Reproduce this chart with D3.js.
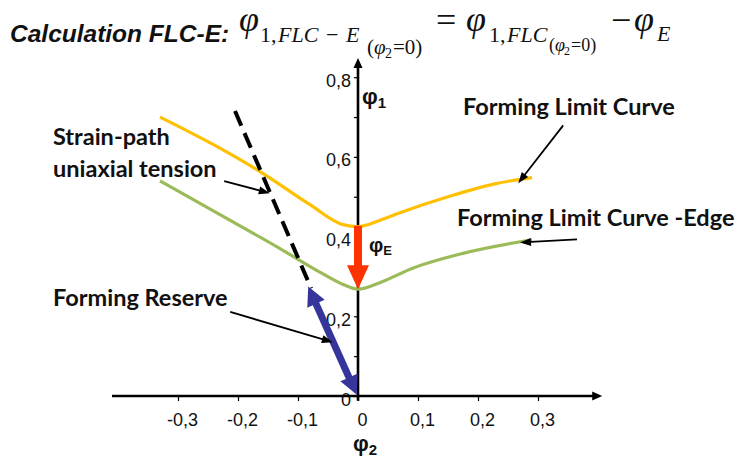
<!DOCTYPE html>
<html>
<head>
<meta charset="utf-8">
<script src="https://cdn.jsdelivr.net/npm/d3@7"></script>
<style>
  body { margin: 0; background: #fff; }
  svg { display: block; }
</style>
</head>
<body>
<div id="ma-figure"></div>
<script>
// --- DONNÉES ---
const ticksX = [-0.3, -0.2, -0.1, 0, 0.1, 0.2, 0.3];
const ticksY = [0, 0.1, 0.2, 0.3, 0.4, 0.5, 0.6, 0.7, 0.8];
const labelsY = [0, 0.2, 0.4, 0.6, 0.8];

// courbes [phi2, phi1]
const courbeFLC = [[-0.33, 0.70], [-0.24, 0.63], [-0.16, 0.56], [-0.08, 0.48], [-0.025, 0.43], [0, 0.425],
                   [0.035, 0.44], [0.07, 0.46], [0.15, 0.50], [0.23, 0.533], [0.29, 0.548]];
const courbeFLCE = [[-0.33, 0.54], [-0.23, 0.455], [-0.13, 0.37], [-0.065, 0.312], [-0.025, 0.28], [0, 0.268],
                    [0.037, 0.285], [0.09, 0.32], [0.175, 0.358], [0.29, 0.392]];
const cheminUniaxial = [[-0.205, 0.715], [-0.078, 0.27]];
const reserveFormage = [[-0.083, 0.275], [-0.002, 0.003]];

// annotations : texte + flèche [départ, pointe]
const annotations = [
  { lignes: ["Strain-path", "uniaxial tension"], tx: 53, ty: 145, fleche: [[-0.223, 0.539], [-0.147, 0.509]] },
  { lignes: ["Forming Reserve"], tx: 53, ty: 306, fleche: [[-0.213, 0.211], [-0.042, 0.135]] },
  { lignes: ["Forming Limit Curve"], tx: 463, ty: 115, fleche: [[0.342, 0.679], [0.267, 0.534]] },
  { lignes: ["Forming Limit Curve -Edge"], tx: 457, ty: 226, fleche: [[0.365, 0.393], [0.27, 0.385]] }
];

// --- CONFIGURATION ---
const largeur = 742;
const hauteur = 459;

const svg = d3.select("#ma-figure")
  .append("svg")
  .attr("width", largeur)
  .attr("height", hauteur);

const x = d3.scaleLinear().domain([-0.41, 0.41]).range([112, 604]);
const y = d3.scaleLinear().domain([0, 0.8]).range([396, 77.2]);

const locale = d3.formatLocale({ decimal: ",", thousands: ".", grouping: [3], currency: ["", ""], minus: "-" });
const fmt = v => v === 0 ? "0" : locale.format(".1f")(v);

// polygone d'une flèche (une ou deux pointes), en pixels
function polygoneFleche(p0, p1, ep, lt, Lt, deuxTetes) {
  const dx = p1[0] - p0[0], dy = p1[1] - p0[1];
  const len = Math.hypot(dx, dy);
  const u = [dx / len, dy / len], n = [-u[1], u[0]];
  const pt = (p, a, b) => [p[0] + u[0] * a + n[0] * b, p[1] + u[1] * a + n[1] * b];
  const pts = [p1, pt(p1, -Lt, lt / 2), pt(p1, -Lt, ep / 2)];
  if (deuxTetes) {
    pts.push(pt(p0, Lt, ep / 2), pt(p0, Lt, lt / 2), p0, pt(p0, Lt, -lt / 2), pt(p0, Lt, -ep / 2));
  } else {
    pts.push(pt(p0, 0, ep / 2), pt(p0, 0, -ep / 2));
  }
  pts.push(pt(p1, -Lt, -ep / 2), pt(p1, -Lt, -lt / 2));
  return "M" + pts.map(p => p.join(",")).join("L") + "Z";
}

// --- AXES ---
const axeX = d3.axisBottom(x).tickValues(ticksX).tickSize(5).tickSizeOuter(0).tickPadding(12).tickFormat(fmt);
const gX = svg.append("g").attr("transform", `translate(0,${y(0)})`).call(axeX);
gX.select(".domain").remove();
gX.selectAll(".tick line").attr("stroke", "#000").attr("stroke-width", 1.2);
gX.selectAll("text").attr("dx", 4);

const axeY = d3.axisLeft(y).tickValues(ticksY).tickSize(4).tickSizeOuter(0).tickPadding(3)
  .tickFormat(v => labelsY.some(l => Math.abs(l - v) < 1e-9) ? fmt(v) : "");
const gY = svg.append("g").attr("transform", `translate(${x(0)},0)`).call(axeY);
gY.select(".domain").remove();
gY.selectAll(".tick line").attr("stroke", "#000").attr("stroke-width", 1.2);
gY.selectAll("text").attr("dy", "0.5em");

svg.selectAll(".tick text")
  .attr("font-family", "'Liberation Sans', Arial, sans-serif")
  .attr("font-size", 18)
  .attr("fill", "#111");

// lignes des axes avec pointes
svg.append("path").attr("fill", "#000")
  .attr("d", polygoneFleche([x(-0.41), y(0)], [x(0.407), y(0)], 2.6, 9, 10, false));
svg.append("path").attr("fill", "#000")
  .attr("d", polygoneFleche([x(0), y(-0.012)], [x(0), y(0.848)], 2.6, 9, 10, false));

// --- COURBES ---
const ligne = d3.line().x(d => x(d[0])).y(d => y(d[1])).curve(d3.curveMonotoneX);

svg.append("path").datum(courbeFLC)
  .attr("d", ligne).attr("fill", "none").attr("stroke", "#ffc000").attr("stroke-width", 3.2);
svg.append("path").datum(courbeFLCE)
  .attr("d", ligne).attr("fill", "none").attr("stroke", "#9bbb59").attr("stroke-width", 3.2);

// chemin de déformation uniaxial (pointillé)
svg.append("path").datum(cheminUniaxial)
  .attr("d", d3.line().x(d => x(d[0])).y(d => y(d[1])))
  .attr("fill", "none").attr("stroke", "#000").attr("stroke-width", 4)
  .attr("stroke-dasharray", "16,8");

// réserve de formage (double flèche bleue)
svg.append("path").attr("fill", "#35359b")
  .attr("d", polygoneFleche(
    [x(reserveFormage[0][0]), y(reserveFormage[0][1])],
    [x(reserveFormage[1][0]), y(reserveFormage[1][1])], 7, 19, 19, true));

// phi_E : flèche rouge de FLC(0) vers FLC-E(0)
const flc0 = courbeFLC.find(d => d[0] === 0)[1];
const flce0 = courbeFLCE.find(d => d[0] === 0)[1];
svg.append("path").attr("fill", "#ff3300")
  .attr("d", polygoneFleche([x(0), y(flc0) - 1], [x(0), y(flce0)], 8, 22, 24, false));

// --- ANNOTATIONS ---
const police = "Lato, 'Open Sans', sans-serif";
annotations.forEach(a => {
  const t = svg.append("text")
    .attr("x", a.tx).attr("y", a.ty)
    .attr("font-family", police).attr("font-weight", "bold").attr("font-size", 23.5).attr("fill", "#111");
  a.lignes.forEach((l, i) => {
    t.append("tspan").attr("x", a.tx).attr("dy", i === 0 ? 0 : 31.5).text(l);
  });
  svg.append("path").attr("fill", "#000")
    .attr("d", polygoneFleche([x(a.fleche[0][0]), y(a.fleche[0][1])], [x(a.fleche[1][0]), y(a.fleche[1][1])], 1.8, 8, 11, false));
});

// étiquettes des axes
const phi1 = svg.append("text").attr("x", 362).attr("y", 104)
  .attr("font-family", "'Liberation Sans', Arial, sans-serif").attr("font-weight", "bold").attr("font-size", 22).attr("fill", "#111");
phi1.append("tspan").text("φ");
phi1.append("tspan").attr("font-size", 15).attr("dy", 4).text("1");

const phi2 = svg.append("text").attr("x", 353).attr("y", 451)
  .attr("font-family", "'Liberation Sans', Arial, sans-serif").attr("font-weight", "bold").attr("font-size", 22).attr("fill", "#111");
phi2.append("tspan").text("φ");
phi2.append("tspan").attr("font-size", 15).attr("dy", 4).text("2");

const phiE = svg.append("text").attr("x", 369).attr("y", 252)
  .attr("font-family", "'Liberation Sans', Arial, sans-serif").attr("font-weight", "bold").attr("font-size", 20).attr("fill", "#111");
phiE.append("tspan").text("φ");
phiE.append("tspan").attr("font-size", 13).attr("dy", 3).text("E");

// --- TITRE + FORMULE ---
svg.append("text").attr("x", 10).attr("y", 42)
  .attr("font-family", "'Liberation Sans', Arial, sans-serif").attr("font-weight", "bold").attr("font-style", "italic")
  .attr("font-size", 24.5).attr("fill", "#111")
  .text("Calculation FLC-E:");

const serif = "'Liberation Serif', 'Times New Roman', serif";
function morceau(txt, px, py, taille, italique) {
  svg.append("text").attr("x", px).attr("y", py)
    .attr("font-family", serif).attr("font-size", taille)
    .attr("font-style", italique ? "italic" : "normal").attr("fill", "#111")
    .text(txt);
}
// premier terme
morceau("φ", 239, 31, 36, true);
morceau("1,", 260, 42, 22, false);
morceau("FLC", 278, 42, 22, true);
morceau("−", 326, 42, 22, false);
morceau("E", 346, 42, 22, true);
morceau("(", 367, 54, 21, false);
morceau("φ", 374, 54, 21, true);
morceau("2", 385, 58, 14, false);
morceau("=0)", 393, 54, 21, false);
morceau("=", 436, 32, 36, false);
// second terme
morceau("φ", 466, 31, 36, true);
morceau("1,", 489, 42, 22, false);
morceau("FLC", 507, 42, 22, true);
morceau("(", 549, 51, 18, false);
morceau("φ", 555, 51, 18, true);
morceau("2", 564, 55, 12, false);
morceau("=0)", 571, 51, 18, false);
morceau("−", 611, 32, 36, false);
morceau("φ", 634, 31, 36, true);
morceau("E", 657, 41, 22, true);
</script>
</body>
</html>
